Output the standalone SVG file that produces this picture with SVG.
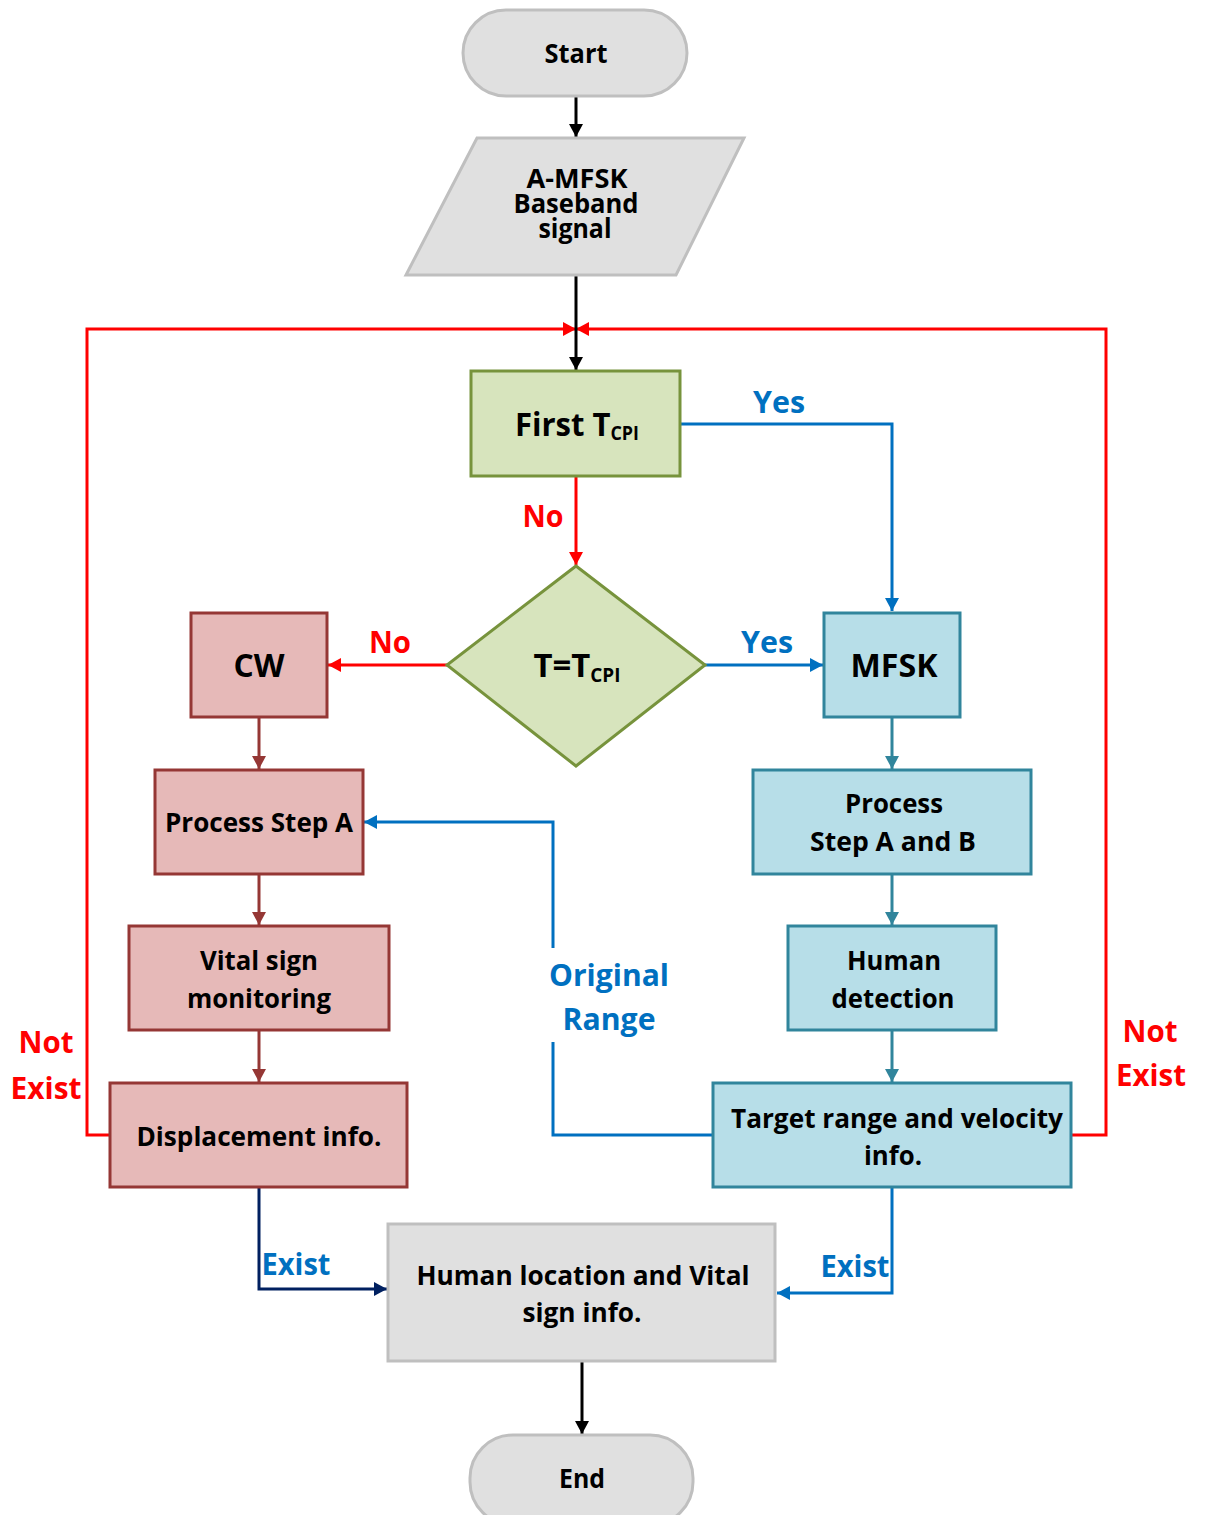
<svg xmlns="http://www.w3.org/2000/svg" width="1205" height="1515" viewBox="0 0 1205 1515">
  <style>
    text { font-family: "Open Sans", "Noto Sans", "Liberation Sans", sans-serif; font-weight: bold; text-anchor: middle; }
    .t  { font-size: 27px; fill: #000; }
    .tp { font-size: 26px; fill: #000; }
    .tb { font-size: 33px; fill: #000; }
    .sub { font-size: 19px; }
    .lr { font-size: 31px; fill: #ff0000; }
    .lb { font-size: 31px; fill: #0070c0; }
    .gray  { fill: #e0e0e0; stroke: #bfbfbf; stroke-width: 3; }
    .green { fill: #d7e4bd; stroke: #77933c; stroke-width: 3; }
    .red   { fill: #e6b9b8; stroke: #953735; stroke-width: 3; }
    .blue  { fill: #b7dee8; stroke: #31859c; stroke-width: 3; }
    .c { fill: none; stroke-width: 3; }
  </style>
  <defs>
    <marker id="aBlack" markerWidth="14" markerHeight="16" refX="13" refY="8" orient="auto" markerUnits="userSpaceOnUse"><path d="M0,1 L13,8 L0,15 Z" fill="#000"/></marker>
    <marker id="aRed" markerWidth="14" markerHeight="16" refX="13" refY="8" orient="auto" markerUnits="userSpaceOnUse"><path d="M0,1 L13,8 L0,15 Z" fill="#ff0000"/></marker>
    <marker id="aBlue" markerWidth="14" markerHeight="16" refX="13" refY="8" orient="auto" markerUnits="userSpaceOnUse"><path d="M0,1 L13,8 L0,15 Z" fill="#0070c0"/></marker>
    <marker id="aNavy" markerWidth="14" markerHeight="16" refX="13" refY="8" orient="auto" markerUnits="userSpaceOnUse"><path d="M0,1 L13,8 L0,15 Z" fill="#002060"/></marker>
    <marker id="aBrown" markerWidth="14" markerHeight="16" refX="13" refY="8" orient="auto" markerUnits="userSpaceOnUse"><path d="M0,1 L13,8 L0,15 Z" fill="#953735"/></marker>
    <marker id="aTeal" markerWidth="14" markerHeight="16" refX="13" refY="8" orient="auto" markerUnits="userSpaceOnUse"><path d="M0,1 L13,8 L0,15 Z" fill="#31859c"/></marker>
  </defs>
  <rect width="1205" height="1515" fill="#fff"/>

  <!-- connectors -->
  <g id="connectors">
    <!-- red loop-backs ("Not Exist") -->
    <path class="c" stroke="#ff0000" d="M110,1135 H87 V329 H576" marker-end="url(#aRed)"/>
    <path class="c" stroke="#ff0000" d="M1071,1135 H1106 V329 H576" marker-end="url(#aRed)"/>
    <!-- main vertical flow -->
    <path class="c" stroke="#000" d="M576,96 V137" marker-end="url(#aBlack)"/>
    <path class="c" stroke="#000" d="M576,275 V370" marker-end="url(#aBlack)"/>
    <!-- First T_CPI: Yes / No -->
    <path class="c" stroke="#0070c0" d="M680,424 H892 V611" marker-end="url(#aBlue)"/>
    <path class="c" stroke="#ff0000" d="M576,476 V565" marker-end="url(#aRed)"/>
    <!-- decision branches -->
    <path class="c" stroke="#0070c0" d="M705,665 H823" marker-end="url(#aBlue)"/>
    <path class="c" stroke="#ff0000" d="M447,665 H328" marker-end="url(#aRed)"/>
    <!-- CW chain -->
    <path class="c" stroke="#953735" d="M259,717 V769" marker-end="url(#aBrown)"/>
    <path class="c" stroke="#953735" d="M259,874 V925" marker-end="url(#aBrown)"/>
    <path class="c" stroke="#953735" d="M259,1030 V1082" marker-end="url(#aBrown)"/>
    <!-- MFSK chain -->
    <path class="c" stroke="#31859c" d="M892,717 V769" marker-end="url(#aTeal)"/>
    <path class="c" stroke="#31859c" d="M892,874 V925" marker-end="url(#aTeal)"/>
    <path class="c" stroke="#31859c" d="M892,1030 V1082" marker-end="url(#aTeal)"/>
    <!-- Original Range feedback -->
    <path class="c" stroke="#0070c0" d="M713,1135 H553 V1042"/>
    <path class="c" stroke="#0070c0" d="M553,948 V822 H364" marker-end="url(#aBlue)"/>
    <!-- Exist paths -->
    <path class="c" stroke="#002060" d="M259,1187 V1289 H387" marker-end="url(#aNavy)"/>
    <path class="c" stroke="#0070c0" d="M892,1187 V1293 H777" marker-end="url(#aBlue)"/>
    <path class="c" stroke="#000" d="M582,1361 V1434" marker-end="url(#aBlack)"/>
  </g>

  <!-- connector labels -->
  <g id="labels">
    <text class="lb" x="779" y="413" textLength="52" lengthAdjust="spacingAndGlyphs">Yes</text>
    <text class="lr" x="543" y="527" textLength="41" lengthAdjust="spacingAndGlyphs">No</text>
    <text class="lb" x="767" y="653" textLength="52" lengthAdjust="spacingAndGlyphs">Yes</text>
    <text class="lr" x="390" y="653" textLength="42" lengthAdjust="spacingAndGlyphs">No</text>
    <text class="lb" x="609" y="986" textLength="120" lengthAdjust="spacingAndGlyphs">Original</text>
    <text class="lb" x="609" y="1030" textLength="93" lengthAdjust="spacingAndGlyphs">Range</text>
    <text class="lr" x="46" y="1053" textLength="55" lengthAdjust="spacingAndGlyphs">Not</text>
    <text class="lr" x="46" y="1099" textLength="71" lengthAdjust="spacingAndGlyphs">Exist</text>
    <text class="lr" x="1150" y="1042" textLength="55" lengthAdjust="spacingAndGlyphs">Not</text>
    <text class="lr" x="1151" y="1086" textLength="70" lengthAdjust="spacingAndGlyphs">Exist</text>
    <text class="lb" x="296" y="1275" textLength="69" lengthAdjust="spacingAndGlyphs">Exist</text>
    <text class="lb" x="855" y="1277" textLength="69" lengthAdjust="spacingAndGlyphs">Exist</text>
  </g>

  <g id="start">
    <rect class="gray" x="463" y="10" width="224" height="86" rx="43"/>
    <text class="t" x="576" y="63" textLength="63" lengthAdjust="spacingAndGlyphs">Start</text>
  </g>

  <g id="input">
    <polygon class="gray" points="477,138 744,138 676,275 406,275"/>
    <text class="tp" x="577" y="188" textLength="101" lengthAdjust="spacingAndGlyphs">A-MFSK</text>
    <text class="tp" x="576" y="213" textLength="125" lengthAdjust="spacingAndGlyphs">Baseband</text>
    <text class="tp" x="575" y="238" textLength="73" lengthAdjust="spacingAndGlyphs">signal</text>
  </g>

  <g id="first-tcpi">
    <rect class="green" x="471" y="371" width="209" height="105"/>
    <text class="tb" x="577" y="436" textLength="124" lengthAdjust="spacingAndGlyphs">First T<tspan class="sub" dy="4">CPI</tspan></text>
  </g>

  <g id="decision">
    <polygon class="green" points="576,566 705,665 576,766 447,665"/>
    <text class="tb" x="577" y="677" textLength="87" lengthAdjust="spacingAndGlyphs">T=T<tspan class="sub" dy="5">CPI</tspan></text>
  </g>

  <g id="cw">
    <rect class="red" x="191" y="613" width="136" height="104"/>
    <text class="tb" x="259" y="677" textLength="51" lengthAdjust="spacingAndGlyphs">CW</text>
  </g>

  <g id="process-a">
    <rect class="red" x="155" y="770" width="208" height="104"/>
    <text class="t" x="259" y="832" textLength="188" lengthAdjust="spacingAndGlyphs">Process Step A</text>
  </g>

  <g id="vital">
    <rect class="red" x="129" y="926" width="260" height="104"/>
    <text class="t" x="259" y="970" textLength="118" lengthAdjust="spacingAndGlyphs">Vital sign</text>
    <text class="t" x="259" y="1008" textLength="144" lengthAdjust="spacingAndGlyphs">monitoring</text>
  </g>

  <g id="displacement">
    <rect class="red" x="110" y="1083" width="297" height="104"/>
    <text class="t" x="259" y="1146" textLength="245" lengthAdjust="spacingAndGlyphs">Displacement info.</text>
  </g>

  <g id="mfsk">
    <rect class="blue" x="824" y="613" width="136" height="104"/>
    <text class="tb" x="894" y="677" textLength="87" lengthAdjust="spacingAndGlyphs">MFSK</text>
  </g>

  <g id="process-ab">
    <rect class="blue" x="753" y="770" width="278" height="104"/>
    <text class="t" x="894" y="813" textLength="98" lengthAdjust="spacingAndGlyphs">Process</text>
    <text class="t" x="893" y="851" textLength="166" lengthAdjust="spacingAndGlyphs">Step A and B</text>
  </g>

  <g id="human-detection">
    <rect class="blue" x="788" y="926" width="208" height="104"/>
    <text class="t" x="894" y="970" textLength="94" lengthAdjust="spacingAndGlyphs">Human</text>
    <text class="t" x="893" y="1008" textLength="123" lengthAdjust="spacingAndGlyphs">detection</text>
  </g>

  <g id="target-info">
    <rect class="blue" x="713" y="1083" width="358" height="104"/>
    <text class="t" x="897" y="1128" textLength="332" lengthAdjust="spacingAndGlyphs">Target range and velocity</text>
    <text class="t" x="893" y="1165" textLength="58" lengthAdjust="spacingAndGlyphs">info.</text>
  </g>

  <g id="result">
    <rect class="gray" x="388" y="1224" width="387" height="137"/>
    <text class="t" x="583" y="1285" textLength="333" lengthAdjust="spacingAndGlyphs">Human location and Vital</text>
    <text class="t" x="582" y="1322" textLength="119" lengthAdjust="spacingAndGlyphs">sign info.</text>
  </g>

  <g id="end">
    <rect class="gray" x="470" y="1435" width="223" height="90" rx="43"/>
    <text class="t" x="582" y="1488" textLength="46" lengthAdjust="spacingAndGlyphs">End</text>
  </g>
</svg>
